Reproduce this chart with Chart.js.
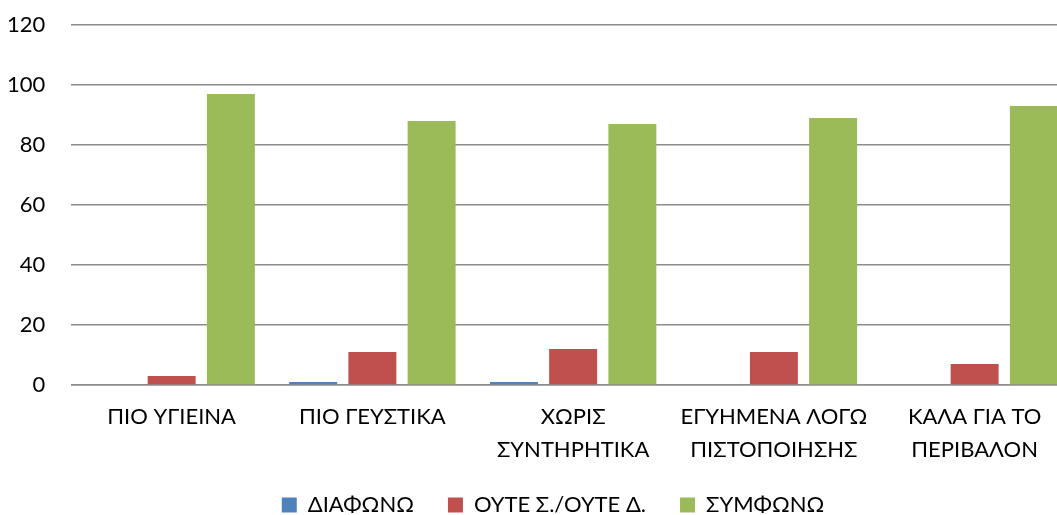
<!DOCTYPE html>
<html>
<head>
<meta charset="utf-8">
<script src="https://cdn.jsdelivr.net/npm/chart.js@4/dist/chart.umd.min.js"></script>
<style>
  html, body { margin: 0; padding: 0; background: #fff; overflow: hidden; }
  #clip { width: 1057px; height: 515px; overflow: hidden; }
  #box { width: 1092px; height: 515px; position: relative; }
</style>
</head>
<body>
<div id="clip"><div id="box"><canvas id="myChart"></canvas></div></div>
<script>
const categories = [
  'ΠΙΟ ΥΓΙΕΙΝΑ',
  'ΠΙΟ ΓΕΥΣΤΙΚΑ',
  ['ΧΩΡΙΣ', 'ΣΥΝΤΗΡΗΤΙΚΑ'],
  ['ΕΓΥΗΜΕΝΑ ΛΟΓΩ', 'ΠΙΣΤΟΠΟΙΗΣΗΣ'],
  ['ΚΑΛΑ ΓΙΑ ΤΟ', 'ΠΕΡΙΒΑΛΟΝ']
];
const seriesNames = ['ΔΙΑΦΩΝΩ', 'ΟΥΤΕ Σ./ΟΥΤΕ Δ.', 'ΣΥΜΦΩΝΩ'];
const disagree = [0, 1, 1, 0, 0];
const neutral = [3, 11, 12, 11, 7];
const agree = [97, 88, 87, 89, 93];
const colors = ['#4F81BD', '#C0504D', '#9BBB59'];

const font = { family: 'Lato, "Open Sans", sans-serif', size: 22 };

// legend padding also sets the row height; trim it so the legend sits low,
// and nudge it right a bit
const legendTrim = {
  id: 'legendTrim',
  beforeLayout(chart) {
    const lg = chart.legend;
    if (lg && !lg._trimmed) {
      const fit = lg.fit;
      lg.fit = function () { fit.call(this); this.height -= 11; };
      lg._trimmed = true;
    }
  },
  afterLayout(chart) {
    const lg = chart.legend;
    if (lg) { lg.left += 12; lg.right += 12; }
  }
};

new Chart(document.getElementById('myChart').getContext('2d'), {
  type: 'bar',
  data: {
    labels: categories,
    datasets: [disagree, neutral, agree].map((d, i) => ({
      label: seriesNames[i],
      data: d,
      backgroundColor: colors[i],
      borderWidth: 0,
      categoryPercentage: 0.885,
      barPercentage: 0.81
    }))
  },
  plugins: [legendTrim],
  options: {
    responsive: true,
    maintainAspectRatio: false,
    animation: false,
    layout: { padding: { top: 25, right: 17, left: 7, bottom: 0 } },
    plugins: {
      legend: {
        position: 'bottom',
        labels: {
          font: font,
          color: '#000',
          boxWidth: 15,
          boxHeight: 15,
          padding: 34
        }
      },
      tooltip: { enabled: false }
    },
    scales: {
      y: {
        min: 0,
        max: 120,
        ticks: { stepSize: 20, font: font, color: '#000', padding: 0 },
        grid: { color: '#8c8c8c', lineWidth: 1.5, drawTicks: true, tickLength: 26, tickColor: 'rgba(0,0,0,0)' },
        border: { display: false }
      },
      x: {
        ticks: {
          font: { family: font.family, size: 22, lineHeight: 1.5 },
          color: '#000', padding: 15, maxRotation: 0, autoSkip: false
        },
        grid: { display: false, drawTicks: false },
        border: { color: '#8c8c8c', width: 1.5 },
        afterFit: (scale) => { scale.height -= 21; }
      }
    }
  }
});
</script>
</body>
</html>
